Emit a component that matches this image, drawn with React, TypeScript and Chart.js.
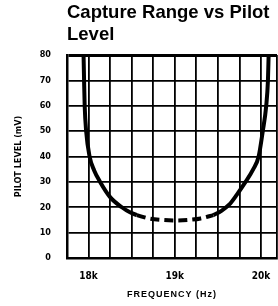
import React, { useEffect, useRef } from 'react';
import { Chart, registerables } from 'chart.js';

Chart.register(...registerables);

// Left solid branch (frequency Hz, pilot level mV)
const leftFreq = [17942, 17948, 17955, 17972, 18012, 18065, 18134, 18250, 18386, 18480, 18560];
const leftLevel = [80, 70, 60, 50, 40, 34.5, 30, 24, 20, 18, 16.9];

// Dashed bottom section
const dashFreq = [18560, 18700, 18850, 19000, 19150, 19300, 19448];
const dashLevel = [16.9, 15.6, 15, 14.8, 15, 15.6, 16.9];

// Right solid branch
const rightFreq = [19448, 19540, 19630, 19720, 19820, 19910, 19972, 20020, 20060, 20080, 20088];
const rightLevel = [16.9, 18.6, 21, 25, 30, 35, 40, 50, 60, 70, 80];

// Axis ticks / grid
const xGrid = [17750, 18000, 18250, 18500, 18750, 19000, 19250, 19500, 19750, 20000, 20185];
const xTickLabels: Record<number, string> = { 18000: '18k', 19000: '19k', 20000: '20k' };
const yMin = 0;
const yMax = 80;
const yStep = 10;

const titleLines = ['Capture Range vs Pilot', 'Level'];
const xTitle = 'FREQUENCY (Hz)';
const yTitle = 'PILOT LEVEL (mV)';

const toPts = (xs: number[], ys: number[]) => xs.map((x, i) => ({ x, y: ys[i] }));

function patchTitleSpacing(scale: any, spacing: string) {
  if (scale._spacingPatched) return;
  const orig = scale.drawTitle.bind(scale);
  scale.drawTitle = (...args: any[]) => {
    const c = scale.ctx;
    c.save();
    (c as any).letterSpacing = spacing;
    orig(...args);
    c.restore();
  };
  scale._spacingPatched = true;
}

export default function App() {
  const ref = useRef<HTMLCanvasElement | null>(null);

  useEffect(() => {
    if (!ref.current) return;
    const lineStyle = {
      borderColor: '#000',
      borderWidth: 4,
      pointRadius: 0,
      fill: false,
      tension: 0.4,
      cubicInterpolationMode: 'monotone' as const,
    };
    const chart = new Chart(ref.current, {
      type: 'line',
      data: {
        datasets: [
          { ...lineStyle, data: toPts(leftFreq, leftLevel) },
          { ...lineStyle, data: toPts(dashFreq, dashLevel), borderDash: [9, 5] },
          { ...lineStyle, data: toPts(rightFreq, rightLevel) },
        ],
      },
      options: {
        responsive: false,
        animation: false,
        layout: { padding: { left: 0, right: 1, top: 0, bottom: 0 } },
        plugins: {
          legend: { display: false },
          tooltip: { enabled: false },
          title: {
            display: true,
            text: titleLines,
            align: 'start',
            fullSize: false,
            color: '#000',
            font: { family: '"Liberation Sans", Arial, sans-serif', size: 18.5, weight: 'bold', lineHeight: 1.19 },
            padding: { top: 2, bottom: 9 },
          },
        },
        scales: {
          x: {
            type: 'linear',
            min: xGrid[0],
            max: xGrid[xGrid.length - 1],
            afterBuildTicks: (s: any) => {
              s.ticks = xGrid.map((v) => ({ value: v }));
            },
            afterFit: (s: any) => {
              s.height = 48;
              s.paddingLeft = 0;
              s.paddingRight = 0;
              patchTitleSpacing(s, '1px');
            },
            grid: {
              color: '#000',
              lineWidth: 1.8,
              drawTicks: false,
            },
            border: { display: true, color: '#000', width: 2.5 },
            ticks: {
              autoSkip: false,
              maxRotation: 0,
              padding: 12,
              color: '#000',
              font: { family: '"Liberation Sans Narrow", "DejaVu Sans Condensed", sans-serif', size: 10, weight: 'bold' },
              callback: (v: any) => xTickLabels[Number(v)] ?? '',
            },
            title: {
              display: true,
              text: xTitle,
              color: '#000',
              font: { family: '"Liberation Sans", Arial, sans-serif', size: 9, weight: 'bold' },
              padding: { top: 0, bottom: 6 },
            },
          },
          y: {
            type: 'linear',
            min: yMin,
            max: yMax,
            afterFit: (s: any) => {
              s.width = 67;
            },
            grid: {
              color: '#000',
              lineWidth: (c: any) => (c.tick && c.tick.value === yMax ? 3 : 1.8),
              drawTicks: false,
            },
            border: { display: true, color: '#000', width: 2.5 },
            ticks: {
              stepSize: yStep,
              padding: 16,
              color: '#000',
              font: { family: '"Liberation Sans Narrow", "DejaVu Sans Condensed", sans-serif', size: 9, weight: 'bold' },
            },
            title: {
              display: true,
              text: yTitle,
              color: '#000',
              font: { family: '"Liberation Sans Narrow", "DejaVu Sans Condensed", sans-serif', size: 9, weight: 'bold' },
              padding: { top: 13, bottom: 0 },
            },
          },
        },
      },
    });
    return () => chart.destroy();
  }, []);

  return (
    <div style={{ position: 'fixed', left: 0, top: 0, width: 278, height: 306, background: '#fff' }}>
      <canvas ref={ref} width={278} height={306} style={{ display: 'block' }} />
    </div>
  );
}
